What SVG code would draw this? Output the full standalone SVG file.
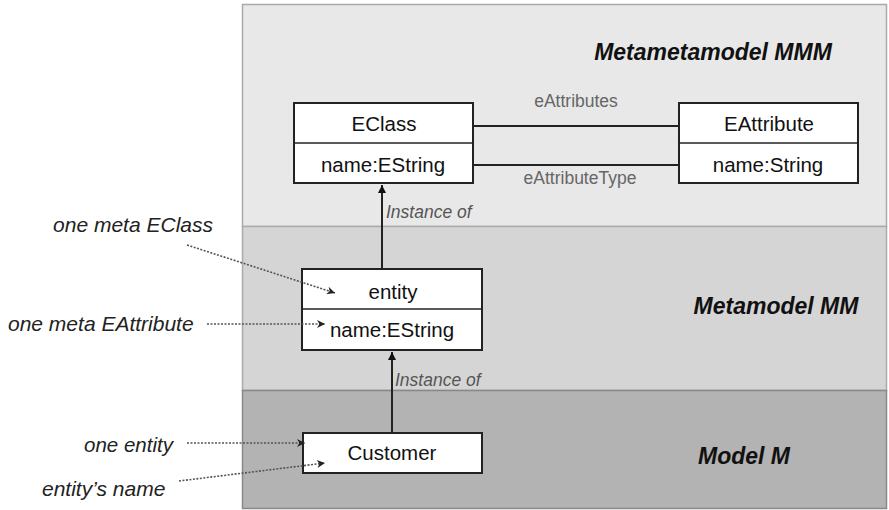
<svg xmlns="http://www.w3.org/2000/svg" width="889" height="510" viewBox="0 0 889 510">
<style>
.box{fill:#ffffff;stroke:#222;stroke-width:2}
.div{stroke:#222;stroke-width:1.5}
.t{font-family:"Liberation Sans",Arial,sans-serif;font-size:20.5px;fill:#111;text-anchor:middle}
.lbl{font-family:"Liberation Sans",Arial,sans-serif;font-size:17.5px;fill:#666;text-anchor:middle}
.inst{font-family:"Liberation Sans",Arial,sans-serif;font-size:17.5px;fill:#555;font-style:italic}
.title{font-family:"Liberation Sans",Arial,sans-serif;font-size:23px;font-weight:bold;font-style:italic;fill:#111;text-anchor:middle}
.note{font-family:"Liberation Sans",Arial,sans-serif;font-size:21px;font-style:italic;fill:#222}
.solid{stroke:#222;stroke-width:2;fill:none}
.dot{stroke:#555;stroke-width:1.6;stroke-dasharray:2 1.5;fill:none}
</style>
<defs>
<marker id="ah" viewBox="0 0 10 10" refX="10" refY="5" markerWidth="8" markerHeight="11" orient="auto" markerUnits="userSpaceOnUse">
<path d="M0,0 L10,5 L0,10 Z" fill="#111"/>
</marker>
<marker id="ah2" viewBox="0 0 10 10" refX="10" refY="5" markerWidth="9" markerHeight="8" orient="auto" markerUnits="userSpaceOnUse">
<path d="M0,0 L10,5 L0,10 L3,5 Z" fill="#222"/>
</marker>
</defs>
<rect width="889" height="510" fill="#ffffff"/>
<g id="panels">
<rect x="242.5" y="4.5" width="644" height="222" fill="#e8e8e8" stroke="#aaaaaa" stroke-width="1.5"/>
<rect x="242.5" y="226.5" width="644" height="164" fill="#d5d5d5" stroke="#aaaaaa" stroke-width="1.5"/>
<rect x="242.5" y="390.5" width="644" height="118" fill="#b3b3b3" stroke="#888888" stroke-width="1.5"/>
<text class="title" x="713" y="60">Metametamodel MMM</text>
<text class="title" x="776" y="314">Metamodel MM</text>
<text class="title" x="744" y="464">Model M</text>
</g>
<g id="eclass">
<rect class="box" x="294" y="103" width="179" height="80"/>
<line class="div" x1="294" y1="143" x2="473" y2="143"/>
<text class="t" x="384" y="131">EClass</text>
<text class="t" x="383" y="172">name:EString</text>
</g>
<g id="eattribute">
<rect class="box" x="679" y="103" width="179" height="80"/>
<line class="div" x1="679" y1="143" x2="858" y2="143"/>
<text class="t" x="769" y="131">EAttribute</text>
<text class="t" x="768" y="172">name:String</text>
</g>
<g id="entity">
<rect class="box" x="302" y="269" width="180" height="81"/>
<line class="div" x1="302" y1="309" x2="482" y2="309"/>
<text class="t" x="393" y="299">entity</text>
<text class="t" x="392" y="337">name:EString</text>
</g>
<g id="customer">
<rect class="box" x="303" y="433" width="179" height="40"/>
<text class="t" x="392" y="460">Customer</text>
</g>
<g id="notes">
<text class="note" x="213" y="232" text-anchor="end">one meta EClass</text>
<text class="note" x="8" y="331">one meta EAttribute</text>
<text class="note" x="84" y="452" textLength="89" lengthAdjust="spacingAndGlyphs">one entity</text>
<text class="note" x="42" y="496">entity’s name</text>
</g>
<g id="connectors">
<line class="solid" x1="473" y1="126" x2="679" y2="126"/>
<line class="solid" x1="473" y1="165" x2="679" y2="165"/>
<text class="lbl" x="576" y="107">eAttributes</text>
<text class="lbl" x="580" y="184">eAttributeType</text>
<line class="solid" x1="382" y1="268" x2="382" y2="185" marker-end="url(#ah)"/>
<text class="inst" x="386" y="218">Instance of</text>
<line class="solid" x1="392" y1="432" x2="392" y2="352" marker-end="url(#ah)"/>
<text class="inst" x="395" y="386">Instance of</text>
<path class="dot" d="M187,245 L335,293" marker-end="url(#ah2)"/>
<path class="dot" d="M207,324 L325,324" marker-end="url(#ah2)"/>
<path class="dot" d="M187,443 L305,443" marker-end="url(#ah2)"/>
<path class="dot" d="M179,481 L325,463" marker-end="url(#ah2)"/>
</g>
</svg>
